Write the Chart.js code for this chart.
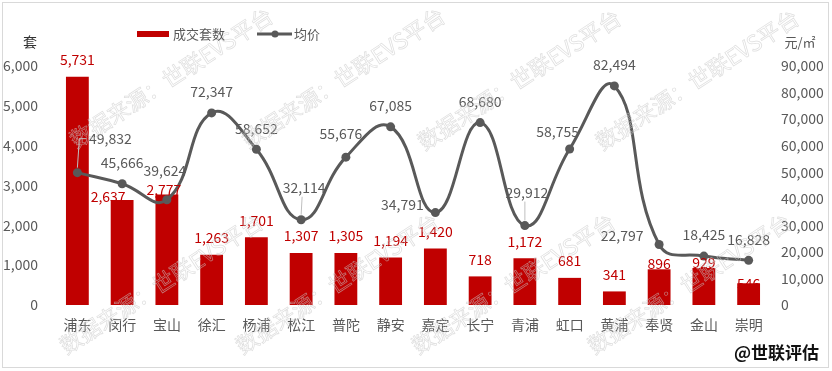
<!DOCTYPE html>
<html>
<head>
<meta charset="utf-8">
<script src="https://cdn.jsdelivr.net/npm/chart.js@4.4.1/dist/chart.umd.min.js"></script>
<style>
  html, body { margin: 0; padding: 0; background: #fff; }
  #wrap { width: 832px; height: 371px; }
</style>
</head>
<body>
<div id="wrap"><canvas id="myChart" width="832" height="371"></canvas></div>
<script>
// data
const districts = ["浦东", "闵行", "宝山", "徐汇", "杨浦", "松江", "普陀", "静安",
                   "嘉定", "长宁", "青浦", "虹口", "黄浦", "奉贤", "金山", "崇明"];
const dealUnits = [5731, 2637, 2777, 1263, 1701, 1307, 1305, 1194,
                   1420, 718, 1172, 681, 341, 896, 929, 546];
const avgPrice = [49832, 45666, 39624, 72347, 58652, 32114, 55676, 67085,
                  34791, 68680, 29912, 58755, 82494, 22797, 18425, 16828];
const unitsMax = 6000, unitsStep = 1000;
const priceMax = 90000, priceStep = 10000;
const unitsName = "成交套数", priceName = "均价";
const unitsTitle = "套", priceTitle = "元/㎡";
const watermark = "数据来源：世联EVS平台";
const signature = "@世联评估";

const RED = "#C00000", GREY = "#595959";
const FONT = "'Noto Sans CJK SC', 'Noto Sans', sans-serif";
const fmt = v => Number(v).toLocaleString("en-US");

// label nudges (dx, dy) where the original moved labels off the line
const barNudge = { 1: [-14, 14], 2: [-3, 12], 13: [0, 11], 14: [0, 12], 15: [0, 17] };
const lineNudge = {
    0: [33, -34], 2: [-2, -29], 5: [3, -32], 6: [-5, -23], 8: [-33, -8],
    10: [2, -33], 11: [-12, -17], 13: [-37, -9]
};
const leaders = [0, 5, 10];

const extras = {
    id: "extras",
    afterDatasetsDraw(chart) {
        const ctx = chart.ctx;
        ctx.save();
        ctx.font = "14px " + FONT;
        ctx.textAlign = "center";
        ctx.textBaseline = "middle";

        // bar labels
        chart.getDatasetMeta(0).data.forEach((bar, i) => {
            const n = barNudge[i] || [0, 0];
            ctx.fillStyle = RED;
            ctx.fillText(fmt(dealUnits[i]), bar.x + n[0], bar.y - 17 + n[1]);
        });

        // line labels
        chart.getDatasetMeta(1).data.forEach((pt, i) => {
            const n = lineNudge[i] || [0, -21];
            const lx = pt.x + n[0], ly = pt.y + n[1];
            if (leaders.includes(i)) {
                ctx.strokeStyle = "#bfbfbf";
                ctx.lineWidth = 1;
                ctx.beginPath();
                ctx.moveTo(pt.x, pt.y - 5);
                if (i === 0) {
                    ctx.lineTo(pt.x + 2, ly);
                    ctx.lineTo(lx - 24, ly);
                } else {
                    ctx.lineTo(lx - 2, ly + 9);
                }
                ctx.stroke();
            }
            ctx.fillStyle = GREY;
            ctx.fillText(fmt(avgPrice[i]), lx, ly);
        });
        ctx.restore();
    },
    afterDraw(chart) {
        const ctx = chart.ctx;
        ctx.save();

        // watermark (hollow, light)
        ctx.font = "22px " + FONT;
        ctx.strokeStyle = "rgba(200,200,200,0.6)";
        ctx.lineWidth = 0.7;
        ctx.textBaseline = "middle";
        ctx.textAlign = "left";
        const starts = [[72, 142], [244, 142], [420, 144], [598, 144],
                        [62, 348], [238, 348], [414, 348], [590, 348]];
        starts.forEach(([x, y]) => {
            ctx.save();
            ctx.translate(x, y);
            ctx.rotate(-33 * Math.PI / 180);
            ctx.strokeText(watermark, 0, 0);
            ctx.restore();
        });

        // legend
        ctx.fillStyle = RED;
        ctx.fillRect(137, 31, 32, 6);
        ctx.font = "13px " + FONT;
        ctx.fillStyle = GREY;
        ctx.fillText(unitsName, 173, 34);
        ctx.strokeStyle = GREY;
        ctx.lineWidth = 3;
        ctx.beginPath();
        ctx.moveTo(257, 34);
        ctx.lineTo(292, 34);
        ctx.stroke();
        ctx.beginPath();
        ctx.arc(275, 34, 3.5, 0, Math.PI * 2);
        ctx.fillStyle = GREY;
        ctx.fill();
        ctx.fillText(priceName, 294, 34);

        // axis titles
        ctx.fillStyle = "#333";
        ctx.font = "14px " + FONT;
        ctx.textAlign = "center";
        ctx.fillText(unitsTitle, 30, 42);
        ctx.fillStyle = GREY;
        ctx.font = "13px " + FONT;
        ctx.fillText(priceTitle, 800, 42);

        // signature
        ctx.fillStyle = "#111";
        ctx.font = "bold 17px " + FONT;
        ctx.textAlign = "right";
        ctx.fillText(signature, 819, 353);

        // outer frame
        ctx.strokeStyle = "#d9d9d9";
        ctx.lineWidth = 1;
        ctx.strokeRect(2.5, 2.5, 826, 365);
        ctx.restore();
    }
};

const ctx = document.getElementById("myChart").getContext("2d");
const myChart = new Chart(ctx, {
    type: "bar",
    data: {
        labels: districts,
        datasets: [
            {
                label: unitsName,
                data: dealUnits,
                backgroundColor: RED,
                yAxisID: "y",
                barPercentage: 0.51,
                categoryPercentage: 1,
                order: 1
            },
            {
                type: "line",
                label: priceName,
                data: avgPrice,
                yAxisID: "y1",
                borderColor: GREY,
                borderWidth: 3,
                pointRadius: 4.5,
                pointBackgroundColor: GREY,
                pointBorderWidth: 0,
                tension: 0.45,
                order: 0
            }
        ]
    },
    options: {
        responsive: false,
        devicePixelRatio: 1,
        animation: false,
        layout: { padding: { top: 66, left: 0, right: 0, bottom: 0 } },
        plugins: {
            legend: { display: false },
            tooltip: { enabled: false }
        },
        scales: {
            x: {
                grid: { display: false, drawTicks: false },
                border: { display: false },
                ticks: { color: GREY, font: { family: FONT, size: 14 }, padding: 11, maxRotation: 0 },
                afterFit: s => { s.height = 66; }
            },
            y: {
                position: "left",
                min: 0,
                max: unitsMax,
                grid: { display: false, drawTicks: false },
                border: { display: false },
                ticks: { stepSize: unitsStep, color: GREY, font: { family: FONT, size: 14 }, padding: 17, callback: fmt },
                afterFit: s => { s.width = 55; }
            },
            y1: {
                position: "right",
                min: 0,
                max: priceMax,
                grid: { display: false, drawTicks: false },
                border: { display: false },
                ticks: { stepSize: priceStep, color: GREY, font: { family: FONT, size: 14 }, padding: 10, callback: fmt },
                afterFit: s => { s.width = 61; }
            }
        }
    },
    plugins: [extras]
});
</script>
</body>
</html>
